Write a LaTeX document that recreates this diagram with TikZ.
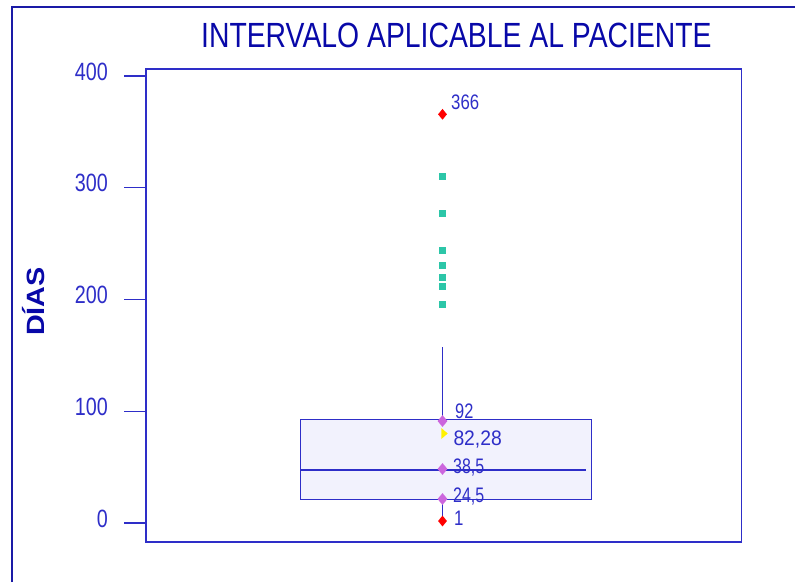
\documentclass[tikz,border=0pt]{standalone}
\usepackage{fontspec}
\setmainfont{Liberation Sans}
\usepackage{xcolor}
\usetikzlibrary{shapes,positioning,calc}

\definecolor{framecol}{HTML}{1A1AA6}
\definecolor{axiscol}{HTML}{2E2EC8}
\definecolor{titlecol}{HTML}{0808A8}
\definecolor{boxfill}{HTML}{F2F2FD}
\definecolor{outcol}{HTML}{2CC6A8}
\definecolor{quartcol}{HTML}{CC66DD}
\newcommand{\narrowtxt}[2][0.8]{\scalebox{#1}[1]{#2}}

\begin{document}
\begin{tikzpicture}[x=1pt, y=-1pt,
    ticklbl/.style={font=\fontsize{25}{30}\selectfont, text=axiscol, inner sep=0, anchor=base east},
    datalbl/.style={font=\fontsize{21}{25}\selectfont, text=axiscol, inner sep=0, anchor=base west},
    quartmark/.style={diamond, fill=quartcol, minimum width=10, minimum height=12, inner sep=0},
    extmark/.style={diamond, fill=red, minimum width=9, minimum height=11, inner sep=0},
    outmark/.style={rectangle, fill=outcol, minimum size=7.3, inner sep=0}]
    \useasboundingbox (0,0) rectangle (795,582);

    % Outer frame
    \draw [framecol, line width=2pt] (11.5,582) -- (11.5,7) -- (795,7);

    % Title and axis name
    \node [font=\fontsize{35}{40}\selectfont, text=titlecol, inner sep=0, anchor=base] (title) at (456.4,47.7) {\narrowtxt[0.81]{INTERVALO APLICABLE AL PACIENTE}};
    \node [font=\fontsize{25}{30}\selectfont\bfseries, text=titlecol, inner sep=0, anchor=base, rotate=90] (ylabel) at (44,301.5) {\scalebox{1.15}[1]{DÍAS}};

    % Plot area
    \node [draw=axiscol, line width=1.6pt, minimum width=595.7, minimum height=473, inner sep=0, anchor=north west] (plot) at (145,68) {};

    % Ticks and values
    \foreach \v in {0,100,200,300,400} {
        \draw [axiscol, line width=1.4pt] (124,{523-1.1175*\v}) -- (145,{523-1.1175*\v});
        \node [ticklbl] at (108,{527-1.1175*\v}) {\narrowtxt[0.79]{\v}};
    }

    % Box
    \node [draw=axiscol, fill=boxfill, line width=1.4pt, minimum width=291, minimum height=80.3, inner sep=0, anchor=north west] (iqr) at (300,418.7) {};
    \coordinate (medL) at (300,470);
    \coordinate (medR) at (586,470);
    \draw [axiscol, line width=1.5pt] (medL) -- (medR);

    % Whiskers
    \coordinate (wtop) at (442.5,347);
    \coordinate (wbot) at (442.5,521);
    \draw [axiscol, line width=1.3pt] (wtop) -- (wtop |- iqr.north);
    \draw [axiscol, line width=1.3pt] (wbot |- iqr.south) -- (wbot);

    % Outliers
    \foreach \i/\y in {1/176.7, 2/213.8, 3/250.7, 4/265.8, 5/277.2, 6/286.2, 7/304.3} {
        \node [outmark] (out\i) at (442.5,\y) {};
    }

    % Markers
    \node [extmark] (max) at (442.5,114.3) {};
    \node [quartmark] (q3) at (442.5,421) {};
    \node [isosceles triangle, isosceles triangle stretches, fill=yellow, minimum width=11, minimum height=6.5, inner sep=0] (mean) at (443.8,433.5) {};
    \node [quartmark] (med) at (442.5,469) {};
    \node [quartmark] (q1) at (442.5,499) {};
    \node [extmark] (min) at (442.5,521) {};

    % Labels
    \node [datalbl] (lmax) at (451,109.3) {\narrowtxt{366}};
    \node [datalbl] (lq3) at (455,418.3) {\narrowtxt[0.78]{92}};
    \node [datalbl] (lmean) at (453.3,445) {\narrowtxt[0.92]{82,28}};
    \node [datalbl] (lmed) at (453,473) {\narrowtxt[0.76]{38,5}};
    \node [datalbl] (lq1) at (453,502.7) {\narrowtxt[0.76]{24,5}};
    \node [datalbl] (lmin) at (454,525) {\narrowtxt[0.8]{1}};
\end{tikzpicture}
\end{document}
